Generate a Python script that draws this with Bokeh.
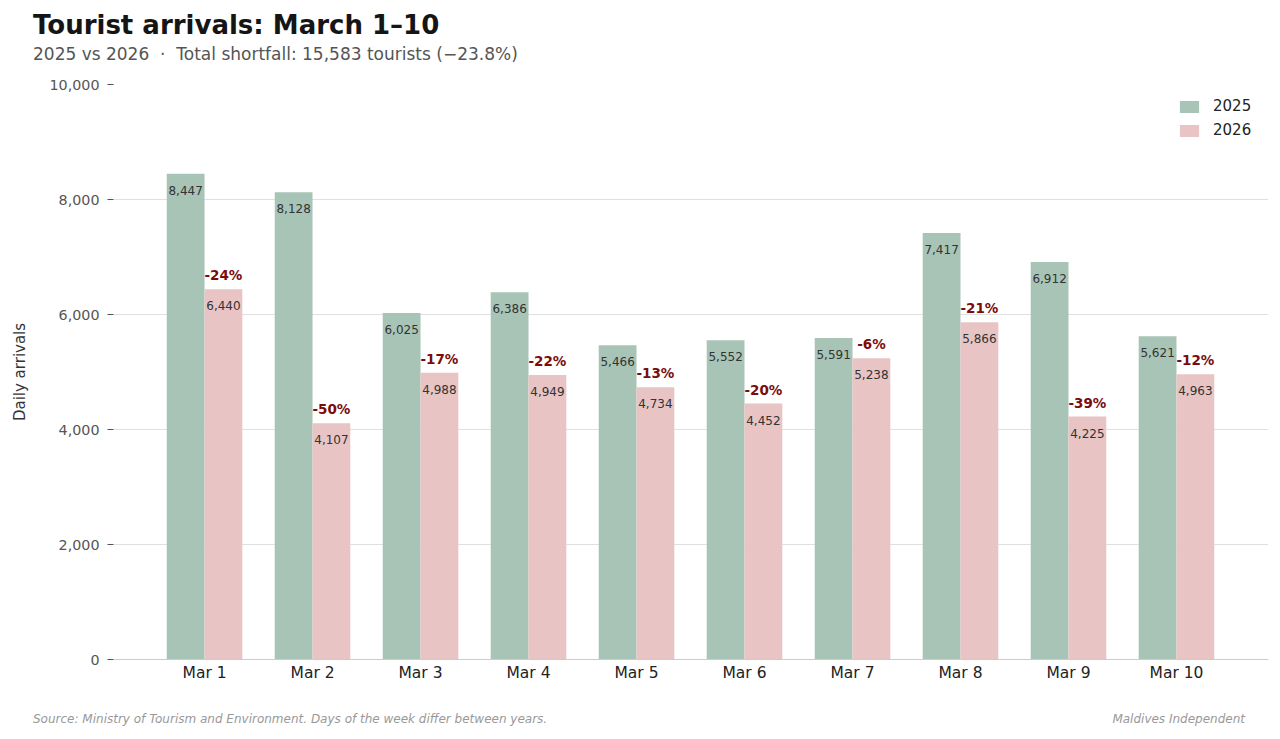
from bokeh.plotting import figure
from bokeh.models import (Range1d, FixedTicker, NumeralTickFormatter, Div,
                          ColumnDataSource, Legend, LegendItem)
from bokeh.layouts import column
from bokeh.core.properties import value
from bokeh.embed import file_html
from bokeh.resources import INLINE

categories = ["Mar 1", "Mar 2", "Mar 3", "Mar 4", "Mar 5",
              "Mar 6", "Mar 7", "Mar 8", "Mar 9", "Mar 10"]
arrivals_2025 = [8447, 8128, 6025, 6386, 5466, 5552, 5591, 7417, 6912, 5621]
arrivals_2026 = [6440, 4107, 4988, 4949, 4734, 4452, 5238, 5866, 4225, 4963]
pct_labels = ["-24%", "-50%", "-17%", "-22%", "-13%", "-20%", "-6%", "-21%", "-39%", "-12%"]
y_ticks = [0, 2000, 4000, 6000, 8000, 10000]

title_text = "Tourist arrivals: March 1\u201310"
subtitle_text = "2025 vs 2026 &nbsp;\u00b7&nbsp; Total shortfall: 15,583 tourists (\u221223.8%)"
source_text = "Source: Ministry of Tourism and Environment. Days of the week differ between years."
credit_text = "Maldives Independent"

FONT = "DejaVu Sans"
C25 = "#a8c4b6"
C26 = "#e8c4c4"

W = 1280
TOP_H = 70
FOOT_H = 34
FIG_H = 739 - TOP_H - FOOT_H   # 635

idx = list(range(len(categories)))
src = ColumnDataSource(dict(
    x25=[i - 0.175 for i in idx],
    x26=[i + 0.175 for i in idx],
    v25=arrivals_2025,
    v26=arrivals_2026,
    t25=[f"{v:,}" for v in arrivals_2025],
    t26=[f"{v:,}" for v in arrivals_2026],
    pct=pct_labels,
))

p = figure(width=W, height=FIG_H, output_backend="svg", toolbar_location=None,
           x_range=Range1d(-0.843, 9.852), y_range=Range1d(0, 10000),
           min_border_left=113, min_border_right=12,
           min_border_top=84 - TOP_H, min_border_bottom=(TOP_H + FIG_H) - 659)
p.outline_line_color = None
p.background_fill_color = "white"
p.border_fill_color = "white"

r25 = p.vbar(x="x25", top="v25", width=0.35, source=src, fill_color=C25, line_color=None)
r26 = p.vbar(x="x26", top="v26", width=0.35, source=src, fill_color=C26, line_color=None)

p.text(x="x25", y="v25", text="t25", source=src, text_align="center", text_baseline="top",
       y_offset=12, text_font=value(FONT), text_font_size="12px", text_color="#333333")
p.text(x="x26", y="v26", text="t26", source=src, text_align="center", text_baseline="top",
       y_offset=12, text_font=value(FONT), text_font_size="12px", text_color="#333333")
p.text(x="x26", y="v26", text="pct", source=src, text_align="center", text_baseline="alphabetic",
       y_offset=-14, text_font=value(FONT), text_font_size="13.5px", text_font_style="bold",
       text_color="#7b0c0c")

# axes
p.xaxis.ticker = FixedTicker(ticks=idx)
p.xaxis.major_label_overrides = {i: c for i, c in zip(idx, categories)}
p.xaxis.major_tick_line_color = None
p.xaxis.major_tick_out = 0
p.xaxis.major_tick_in = 0
p.xaxis.minor_tick_line_color = None
p.xaxis.minor_tick_out = 0
p.xaxis.axis_line_color = "#cccccc"
p.xaxis.major_label_text_font = FONT
p.xaxis.major_label_text_font_size = "15.5px"
p.xaxis.major_label_text_color = "#222222"
p.xaxis.major_label_standoff = 4

p.yaxis.ticker = FixedTicker(ticks=y_ticks)
p.yaxis.formatter = NumeralTickFormatter(format="0,0")
p.yaxis.axis_line_color = None
p.yaxis.major_tick_line_color = "#555555"
p.yaxis.major_tick_out = 6
p.yaxis.major_tick_in = 0
p.yaxis.minor_tick_line_color = None
p.yaxis.major_label_text_font = FONT
p.yaxis.major_label_text_font_size = "14.3px"
p.yaxis.major_label_text_color = "#555555"
p.yaxis.major_label_standoff = 8
p.yaxis.axis_label = "Daily arrivals"
p.yaxis.axis_label_text_font = FONT
p.yaxis.axis_label_text_font_size = "15px"
p.yaxis.axis_label_text_font_style = "normal"
p.yaxis.axis_label_text_color = "#333333"
p.yaxis.axis_label_standoff = 17

p.xgrid.grid_line_color = None
p.ygrid.grid_line_color = "#e0e0e0"
p.ygrid.grid_line_width = 1

legend = Legend(items=[LegendItem(label="2025", renderers=[r25]),
                       LegendItem(label="2026", renderers=[r26])],
                location="top_right", background_fill_alpha=0, border_line_color=None,
                glyph_width=24, glyph_height=15, label_height=18, label_width=42,
                label_standoff=12, spacing=6,
                label_text_font=FONT, label_text_font_size="15px",
                label_text_color="#222222", margin=13, padding=2)
p.add_layout(legend)

head = Div(width=W, height=TOP_H, margin=0, text=f"""
<div style="position:relative;width:{W}px;height:{TOP_H}px;font-family:'DejaVu Sans';">
  <div style="position:absolute;left:33px;top:11.5px;font-size:26px;line-height:1;font-weight:bold;color:#151515;white-space:nowrap;">{title_text}</div>
  <div style="position:absolute;left:33px;top:46px;font-size:17px;line-height:1;color:#555555;white-space:nowrap;">{subtitle_text}</div>
</div>""")

foot = Div(width=W, height=FOOT_H, margin=0, text=f"""
<div style="position:relative;width:{W}px;height:{FOOT_H}px;font-family:'DejaVu Sans';font-style:italic;font-size:12px;line-height:1;color:#999999;">
  <div style="position:absolute;left:33px;top:8px;white-space:nowrap;">{source_text}</div>
  <div style="position:absolute;right:{W - 1245}px;top:8px;white-space:nowrap;">{credit_text}</div>
</div>""")

layout = column(head, p, foot, spacing=0)
open("out.html", "w").write(file_html(layout, INLINE))
